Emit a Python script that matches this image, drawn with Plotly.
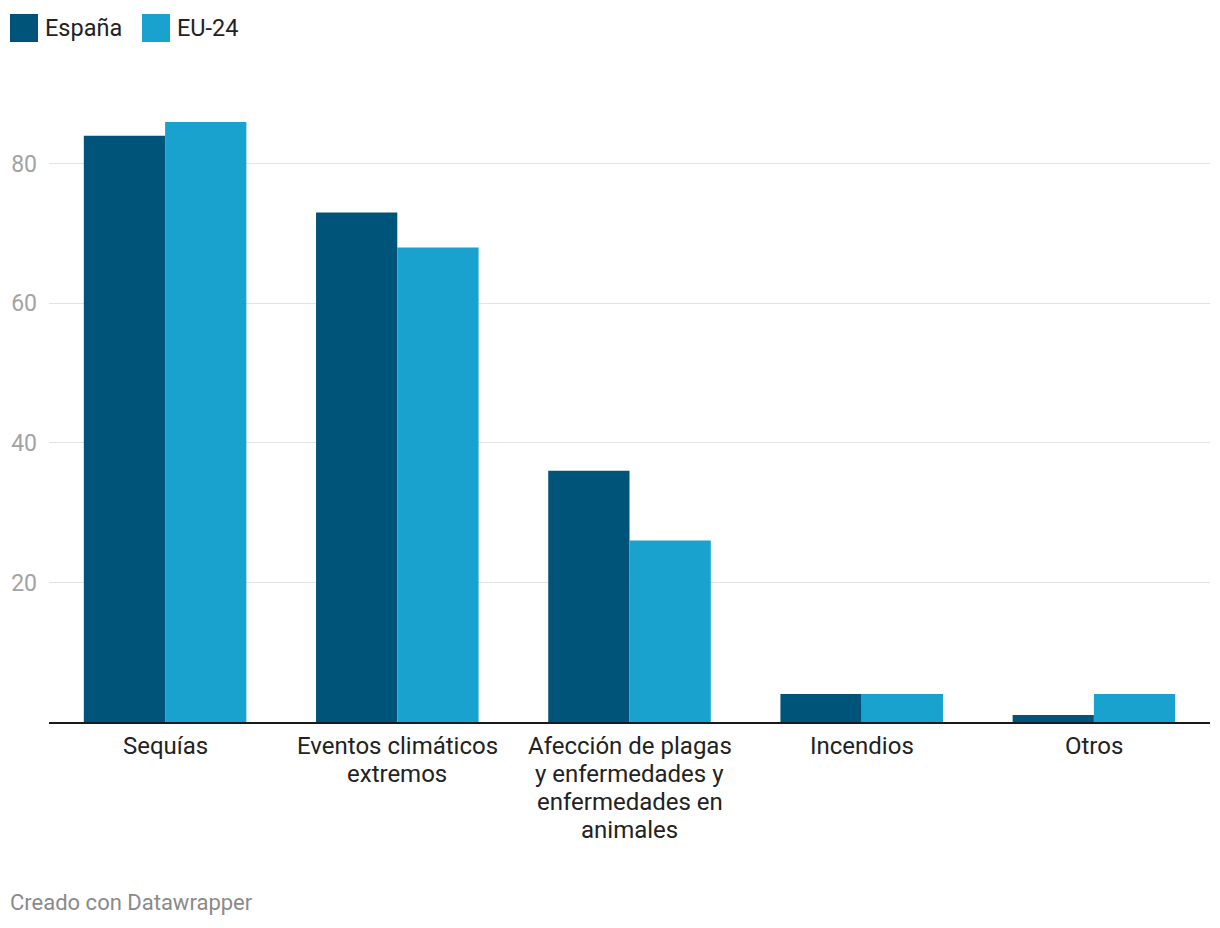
import plotly.graph_objects as go

categories = ["Sequías", "Eventos climáticos<br>extremos",
              "Afección de plagas<br>y enfermedades y<br>enfermedades en<br>animales",
              "Incendios", "Otros"]
espana = [84, 73, 36, 4, 1]
eu24 = [86, 68, 26, 4, 4]
series_names = ["España", "EU-24"]
colors = ["#00547a", "#19a2cd"]
y_ticks = [20, 40, 60, 80]

W, H = 1220, 928
L, R, T, B = 49, 10, 94, 206
pw, ph = W - L - R, H - T - B

def px(x):
    return (x - L) / pw

def py(y):
    return (H - B - y) / ph

fig = go.Figure()
for name, vals, c in zip(series_names, [espana, eu24], colors):
    fig.add_trace(go.Bar(x=categories, y=vals, name=name, marker=dict(color=c, line=dict(width=0)),
                         showlegend=False, hoverinfo="y"))

fig.update_layout(
    width=W, height=H,
    margin=dict(l=L, r=R, t=T, b=B, pad=0),
    barmode="group", bargap=0.3, bargroupgap=0,
    plot_bgcolor="white", paper_bgcolor="white",
    font=dict(family="Roboto", size=22, color="#222222"),
    xaxis=dict(showgrid=False, showline=True, linecolor="#1a1a1a", linewidth=2,
               ticks="", showticklabels=False, fixedrange=True),
    yaxis=dict(range=[0, 90], tickvals=y_ticks, showgrid=True, gridcolor="#e3e3e3", gridwidth=1,
               zeroline=False, showline=False, ticks="", ticklabelstandoff=11,
               tickfont=dict(size=23, color="#a3a3a3"), fixedrange=True),
)

# category labels, line by line (tighter line height like the original)
for cat in categories:
    for j, line in enumerate(cat.split("<br>")):
        fig.add_annotation(xref="x", yref="paper", x=cat, y=py(746 + 28 * j), text=line,
                           showarrow=False, xanchor="center", yanchor="middle",
                           font=dict(size=24, color="#222222"))

# custom legend (square swatches)
legend_items = [(10, 43), (142, 175)]
for (sx, tx), name, c in zip(legend_items, series_names, colors):
    fig.add_shape(type="rect", xref="paper", yref="paper",
                  x0=px(sx), x1=px(sx + 28), y0=py(42), y1=py(14),
                  fillcolor=c, line=dict(width=0))
    fig.add_annotation(xref="paper", yref="paper", x=px(tx), y=py(28), text=name,
                       showarrow=False, xanchor="left", yanchor="middle",
                       font=dict(size=23.5, color="#222222"))

fig.add_annotation(xref="paper", yref="paper", x=px(8), y=py(902), text="Creado con Datawrapper",
                   showarrow=False, xanchor="left", yanchor="middle",
                   font=dict(size=22, color="#8a8a8a"))

fig.write_html("out.html", config={"displayModeBar": False},
               post_script="document.body.style.margin='0';")
